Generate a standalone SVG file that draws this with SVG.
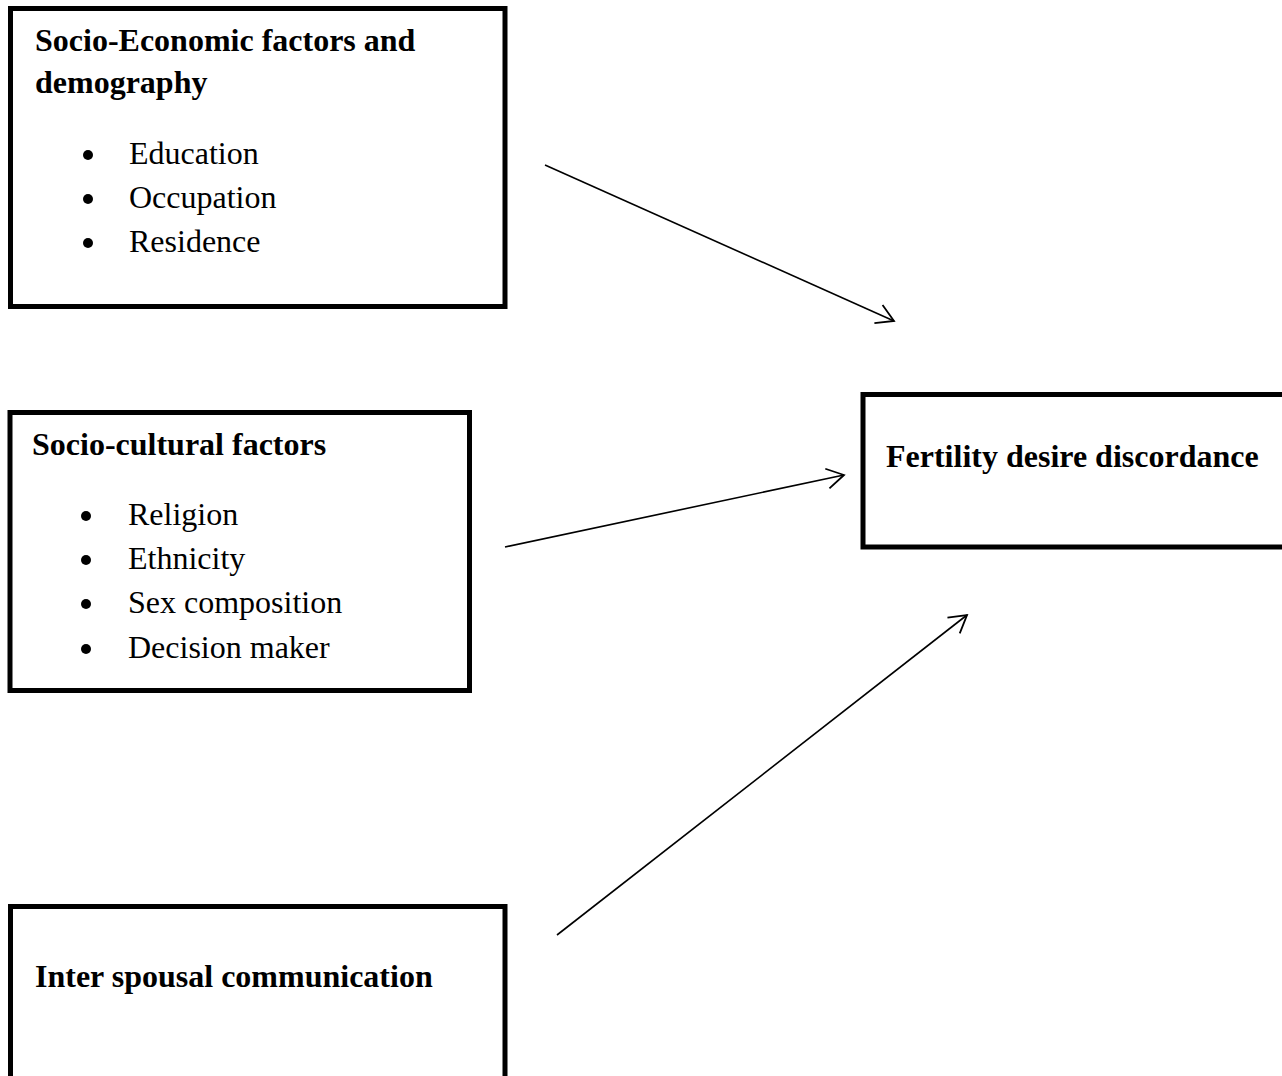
<svg xmlns="http://www.w3.org/2000/svg" width="1282" height="1076" viewBox="0 0 1282 1076">
  <style>
    .box { fill: #ffffff; stroke: #000000; stroke-width: 5; }
    .title { font-family: "Liberation Serif", "Times New Roman", serif; font-size: 32px; font-weight: bold; fill: #000000; }
    .item { font-family: "Liberation Serif", "Times New Roman", serif; font-size: 32px; fill: #000000; }
    .bullet { fill: #000000; }
    .conn { stroke: #000000; stroke-width: 1.6; fill: none; }
  </style>
  <defs>
    <marker id="arrow" markerUnits="userSpaceOnUse" viewBox="0 0 22 26" refX="19" refY="13" markerWidth="22" markerHeight="26" orient="auto">
      <path d="M2,3 L19,13 L2,23" fill="none" stroke="#000000" stroke-width="1.8"/>
    </marker>
  </defs>
  <rect width="1282" height="1076" fill="#ffffff"/>

  <g id="node-socioeconomic">
    <rect class="box" x="10.5" y="8.5" width="494.5" height="298"/>
    <text class="title" x="35" y="51">Socio-Economic factors and</text>
    <text class="title" x="35" y="93">demography</text>
    <circle class="bullet" cx="88" cy="155" r="5"/>
    <text class="item" x="129" y="164">Education</text>
    <circle class="bullet" cx="88" cy="199" r="5"/>
    <text class="item" x="129" y="208">Occupation</text>
    <circle class="bullet" cx="88" cy="243" r="5"/>
    <text class="item" x="129" y="252">Residence</text>
  </g>

  <g id="node-sociocultural">
    <rect class="box" x="10" y="412.5" width="459.5" height="278"/>
    <text class="title" x="32" y="455">Socio-cultural factors</text>
    <circle class="bullet" cx="86" cy="516" r="5"/>
    <text class="item" x="128" y="525">Religion</text>
    <circle class="bullet" cx="86" cy="560" r="5"/>
    <text class="item" x="128" y="569">Ethnicity</text>
    <circle class="bullet" cx="86" cy="604" r="5"/>
    <text class="item" x="128" y="613">Sex composition</text>
    <circle class="bullet" cx="86" cy="649" r="5"/>
    <text class="item" x="128" y="658">Decision maker</text>
  </g>

  <g id="node-interspousal">
    <rect class="box" x="10.5" y="906.5" width="494.5" height="200"/>
    <text class="title" x="35" y="987">Inter spousal communication</text>
  </g>

  <g id="node-fertility">
    <rect class="box" x="863" y="394.5" width="440" height="152.5"/>
    <text class="title" x="886" y="467">Fertility desire discordance</text>
  </g>

  <g id="connectors">
    <line class="conn" x1="545" y1="165" x2="894" y2="321" marker-end="url(#arrow)"/>
    <line class="conn" x1="505" y1="547" x2="844" y2="475" marker-end="url(#arrow)"/>
    <line class="conn" x1="557" y1="935" x2="967" y2="615" marker-end="url(#arrow)"/>
  </g>
</svg>
